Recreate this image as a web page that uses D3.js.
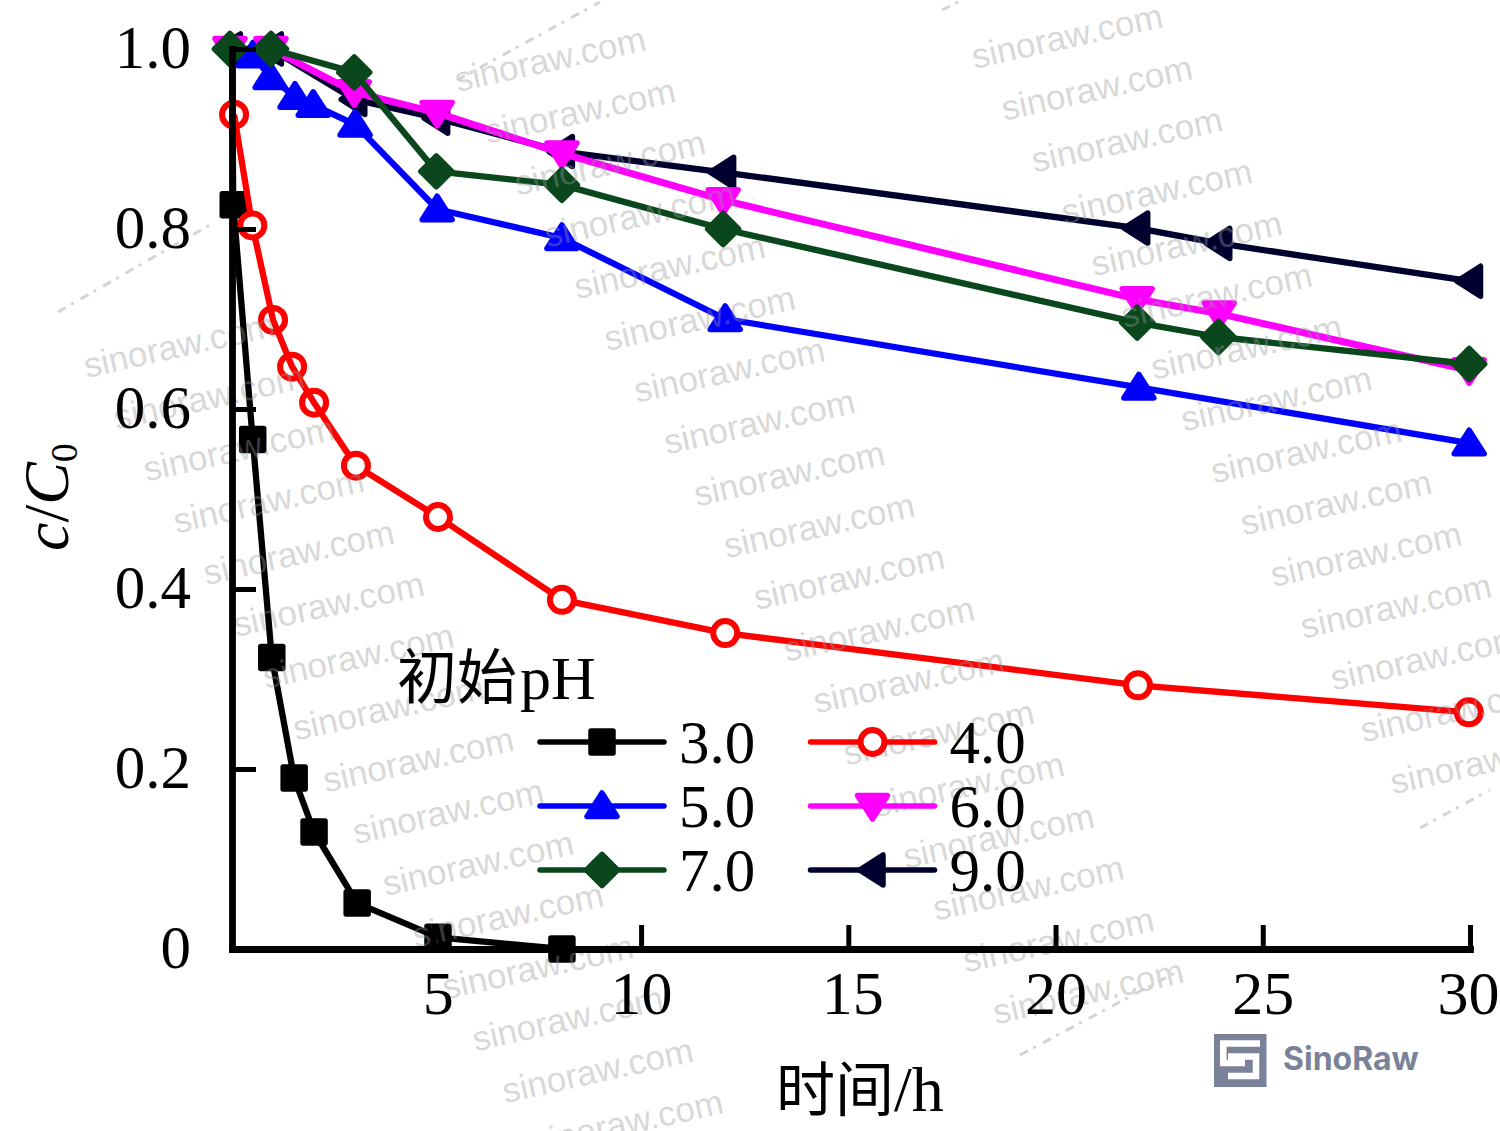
<!DOCTYPE html>
<html lang="zh">
<head>
<meta charset="utf-8">
<title>c/C0 vs time at different initial pH</title>
<script src="https://cdn.jsdelivr.net/npm/d3@7"></script>
<style>
  html, body { margin: 0; padding: 0; background: #fff; }
  svg { display: block; }
  text { font-family: "Liberation Serif", serif; fill: #000; }
</style>
</head>
<body>
<svg id="chart" width="1500" height="1131"></svg>
<script>
// Sampling times (h) for each run
const timesPH3 = [0.13, 0.16, 0.63, 1.09, 1.63, 2.11, 3.15, 5.10, 8.09];
const timesPH4 = [0.18, 0.62, 1.12, 1.58, 2.11, 3.12, 5.10, 8.09, 12.03, 21.99, 29.97];
const timesPH5 = [0.08, 0.64, 1.05, 1.65, 2.09, 3.10, 5.08, 8.09, 12.03, 22.01, 29.98];
const timesPH6 = [0.08, 1.07, 3.08, 5.08, 8.09, 11.98, 21.97, 23.95, 29.98];
const timesPH7 = [0.08, 1.07, 3.08, 5.06, 8.09, 11.98, 21.97, 23.93, 29.98];
const timesPH9 = [0.08, 1.07, 3.08, 5.08, 8.09, 11.98, 21.97, 23.95, 30.0];

// Relative concentration c/C0 for each run
const ratioPH3 = [1.0, 0.827, 0.566, 0.324, 0.19, 0.13, 0.051, 0.013, 0];
const ratioPH4 = [0.927, 0.804, 0.699, 0.647, 0.607, 0.537, 0.48, 0.388, 0.351, 0.293, 0.263];
const ratioPH5 = [1.0, 0.993, 0.969, 0.947, 0.938, 0.916, 0.822, 0.79, 0.70, 0.624, 0.562];
const ratioPH6 = [1.0, 1.0, 0.952, 0.929, 0.884, 0.832, 0.722, 0.706, 0.643];
const ratioPH7 = [1.0, 1.0, 0.974, 0.864, 0.849, 0.80, 0.696, 0.68, 0.65];
const ratioPH9 = [1.0, 1.0, 0.944, 0.923, 0.886, 0.863, 0.801, 0.784, 0.742];

// Rings of the pH 4 run that are left unfilled, so the lines show through
const openRingsPH4 = [0, 2, 3, 4];

// Axis ticks and legend labels
const xTicks = [5, 10, 15, 20, 25, 30];
const yTicks = [0, 0.2, 0.4, 0.6, 0.8, 1.0];
const legendOrder = ["3.0", "4.0", "5.0", "6.0", "7.0", "9.0"];

const svg = d3.select("#chart");
const x = d3.scaleLinear().domain([0.13, 30]).range([232, 1470]);
const y = d3.scaleLinear().domain([0, 1]).range([949, 49]);

// Marker outlines, drawn around the origin and given round joins
const shapes = {
  square: "M-11,-11H11V11H-11Z",
  up: "M0,-13L15,10.5H-15Z",
  down: "M0,13L15,-10.5H-15Z",
  left: "M-13,0L10.5,-15V15Z",
  diamond: "M0,-15.5L15.5,0L0,15.5L-15.5,0Z"
};

// Paint order, bottom to top
const series = [
  { label: "3.0", color: "#000000", shape: "square", t: timesPH3, v: ratioPH3, markFrom: 1 },
  { label: "4.0", color: "#ff0000", shape: "circle", t: timesPH4, v: ratioPH4, open: openRingsPH4 },
  { label: "9.0", color: "#00002e", shape: "left", t: timesPH9, v: ratioPH9 },
  { label: "5.0", color: "#0000ff", shape: "up", t: timesPH5, v: ratioPH5, markFrom: 1 },
  { label: "6.0", color: "#ff00ff", shape: "down", t: timesPH6, v: ratioPH6, lineFrom: 1 },
  { label: "7.0", color: "#0a471c", shape: "diamond", t: timesPH7, v: ratioPH7, lineFrom: 1 }
];

function drawMarker(g, shape, color, open) {
  if (shape === "circle") {
    g.append("circle").attr("r", 12)
      .attr("fill", open ? "none" : "#fff").attr("stroke", color).attr("stroke-width", 6);
  } else {
    g.append("path").attr("d", shapes[shape])
      .attr("fill", color).attr("stroke", color)
      .attr("stroke-width", 5.5).attr("stroke-linejoin", "round");
  }
}

// Axes: ticks point into the plot
const axes = svg.append("g");
const xAxis = axes.append("g").attr("transform", "translate(0,949)")
  .call(d3.axisBottom(x).tickValues(xTicks).tickSize(-24).tickSizeOuter(0).tickFormat(d3.format("d")));
const yAxis = axes.append("g").attr("transform", "translate(232,0)")
  .call(d3.axisLeft(y).tickValues(yTicks).tickSize(-24).tickSizeOuter(0)
    .tickFormat(d => d === 0 ? "0" : d3.format(".1f")(d)));
axes.selectAll(".domain").attr("stroke", "#000").attr("stroke-width", 6.8).attr("stroke-linecap", "square");
axes.selectAll(".tick line").attr("stroke", "#000").attr("stroke-width", 5);
xAxis.selectAll(".tick text").attr("y", 0).attr("dy", 65)
  .attr("dx", d => (d === 5 || d === 15) ? 4 : (d === 30 ? -2 : 0))
  .style("font-family", '"Liberation Serif", serif').style("font-size", "62px").attr("fill", "#000");
yAxis.selectAll(".tick text").attr("x", -41).attr("dy", 18)
  .style("font-family", '"Liberation Serif", serif').style("font-size", "61px").attr("fill", "#000");

// Lines with their markers
const line = d3.line().x(d => x(d.t)).y(d => y(d.v));
series.forEach(s => {
  const pts = s.t.map((t, i) => ({ t, v: s.v[i], i }));
  const g = svg.append("g");
  g.append("path").attr("d", line(pts.slice(s.lineFrom || 0))).attr("fill", "none")
    .attr("stroke", s.color).attr("stroke-width", s.label === "6.0" ? 7 : 6.3)
    .attr("stroke-linejoin", "round");
  g.selectAll("g.mark").data(pts.slice(s.markFrom || 0)).join("g").attr("class", "mark")
    .attr("transform", d => `translate(${x(d.t)},${y(d.v)})`)
    .each(function (d) {
      drawMarker(d3.select(this), s.shape, s.color, s.open && s.open.includes(d.i));
    });
});

// Repeating diagonal site stamp
const stampStartX = [179, 550, 1067];
const stampStartY = [345, 59, 36];
const stampCount = [16, 19, 15];
const stamps = svg.append("g");
stampStartX.forEach((sx0, c) => {
  d3.range(stampCount[c]).forEach(i => {
    const sx = sx0 + i * 29.9, sy = stampStartY[c] + i * 51.8;
    stamps.append("text").attr("transform", `translate(${sx},${sy}) rotate(-12.5)`)
      .attr("text-anchor", "middle").attr("dy", "0.35em")
      .style("font-family", '"Liberation Sans", sans-serif').style("font-size", "35px")
      .style("fill", "#999").style("fill-opacity", 0.4).text("sinoraw.com");
  });
});

// Worn-away tails of the stamp at the ends of its columns
const tailStarts = [[58, 312], [457, 80], [1020, 1055], [1420, 828], [942, 10]];
const tailEnds = [[215, 222], [600, 2], [1180, 970], [1490, 790], [962, 0]];
tailStarts.forEach((p, i) => {
  stamps.append("line")
    .attr("x1", p[0]).attr("y1", p[1]).attr("x2", tailEnds[i][0]).attr("y2", tailEnds[i][1])
    .attr("stroke", "#d4d4d4").attr("stroke-width", 3).attr("stroke-dasharray", "9 6 3 8");
});

// Axis labels go above the stamp
svg.node().appendChild(xAxis.node());
svg.node().appendChild(yAxis.node());

svg.append("text").attr("x", 776).attr("y", 1111).style("font-size", "64px")
  .html('<tspan style="font-family:\'Noto Sans CJK SC\';font-size:59px">时间</tspan><tspan>/h</tspan>');

svg.append("text").attr("transform", "translate(68,551) rotate(-90)").style("font-size", "64px")
  .html('<tspan font-style="italic">c</tspan><tspan>/</tspan><tspan font-style="italic">C</tspan><tspan dy="9" style="font-size:38px">0</tspan>');

// Legend
svg.append("text").attr("x", 397).attr("y", 699).style("font-size", "62px")
  .html('<tspan style="font-family:\'Noto Sans CJK SC\';font-size:60px">初始</tspan><tspan dx="3">pH</tspan>');

legendOrder.forEach((lab, i) => {
  const s = series.find(d => d.label === lab);
  const col = i % 2, row = Math.floor(i / 2);
  const lx = 540 + col * 270.5, ly = 742 + row * 64;
  const g = svg.append("g").attr("transform", `translate(${lx},${ly})`);
  g.append("line").attr("x1", 0).attr("x2", 124).attr("stroke", s.color)
    .attr("stroke-width", 5.5).attr("stroke-linecap", "round");
  drawMarker(g.append("g").attr("transform", "translate(62,0)"), s.shape, s.color, false);
  g.append("text").attr("x", 139).attr("dy", 21).style("font-size", "61px").text(lab);
});

// Brand mark
const logo = svg.append("g").attr("transform", "translate(1214,1034)");
logo.append("rect").attr("width", 52.5).attr("height", 53).attr("fill", "#7a8299");
logo.append("path").attr("d", "M46,9.5H9.3V29H31M14,22.5H42V42H14")
  .attr("fill", "none").attr("stroke", "#fff").attr("stroke-width", 6.5);
svg.append("text").attr("x", 1283).attr("y", 1070)
  .style("font-family", "Inter, sans-serif").style("font-weight", 700).style("font-size", "32px")
  .style("fill", "#7a8299").text("SinoRaw");
</script>
</body>
</html>
